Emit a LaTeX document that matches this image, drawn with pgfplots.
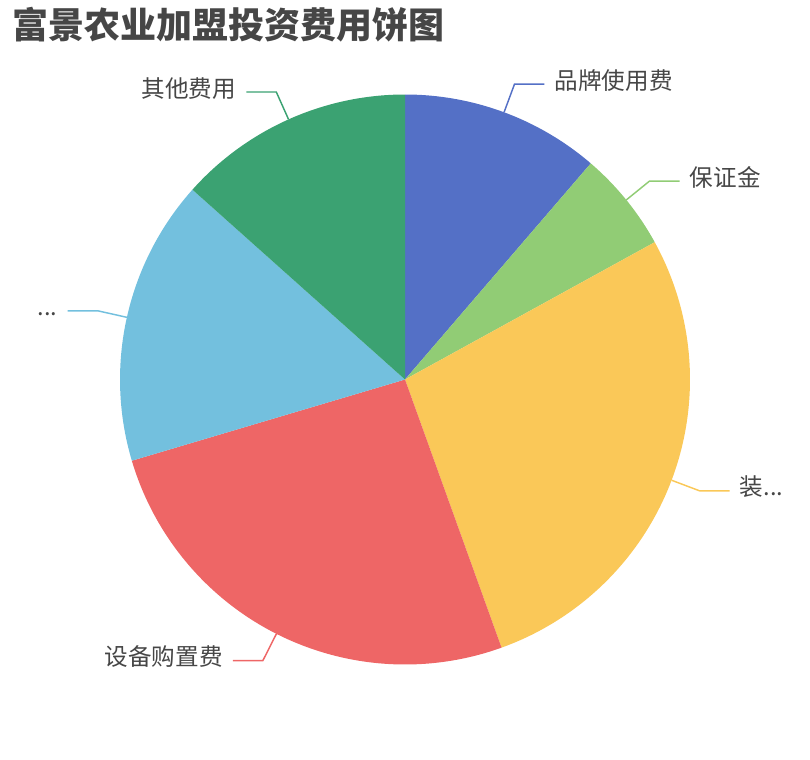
\documentclass[border=0pt]{standalone}
\usepackage{fontspec}
\setmainfont{Noto Sans CJK SC}
\usepackage{pgfplots}
\usepackage{pgfplotstable}
\pgfplotsset{compat=1.18}

\definecolor{c0}{HTML}{5470C6}
\definecolor{c1}{HTML}{91CC75}
\definecolor{c2}{HTML}{FAC858}
\definecolor{c3}{HTML}{EE6666}
\definecolor{c4}{HTML}{73C0DE}
\definecolor{c5}{HTML}{3BA272}
\definecolor{txt}{HTML}{464646}

% share of each item (percent), clockwise from 12 o'clock
\pgfplotstableread[col sep=comma]{
label,value
品牌使用费,11.3
保证金,5.7
装...,27.5
设备购置费,25.9
...,16.2
其他费用,13.4
}\piedata

\begin{document}
\begin{tikzpicture}
\def\R{213.75pt}% 285px radius, 1px = 0.75pt
\gdef\total{0}
\foreach \i in {0,...,5}{
  \pgfplotstablegetelem{\i}{value}\of\piedata
  \pgfmathsetmacro\t{\total+\pgfplotsretval}
  \xdef\total{\t}
}
\gdef\acc{0}
\foreach \i in {0,...,5}{
  \pgfplotstablegetelem{\i}{value}\of\piedata
  \pgfmathsetmacro\a{360*(\acc/\total)}
  \pgfmathsetmacro\n{\acc+\pgfplotsretval}
  \pgfmathsetmacro\b{360*(\n/\total)}
  \pgfmathsetmacro\m{(\a+\b)/2}
  \pgfmathtruncatemacro\s{sin(\m)>=0 ? 1 : -1}
  \pgfmathsetmacro\xa{405+285*sin(\m)}
  \pgfmathsetmacro\ya{379.5-285*cos(\m)}
  \pgfmathsetmacro\xb{405+315*sin(\m)}
  \pgfmathsetmacro\yb{379.5-315*cos(\m)}
  \pgfmathsetmacro\xc{\xb+30*\s}
  \pgfmathsetmacro\xt{\xc+10*\s}
  \expandafter\xdef\csname pieA\i\endcsname{\a}
  \expandafter\xdef\csname pieB\i\endcsname{\b}
  \expandafter\xdef\csname pieXa\i\endcsname{\xa}
  \expandafter\xdef\csname pieYa\i\endcsname{\ya}
  \expandafter\xdef\csname pieXb\i\endcsname{\xb}
  \expandafter\xdef\csname pieYb\i\endcsname{\yb}
  \expandafter\xdef\csname pieXc\i\endcsname{\xc}
  \expandafter\xdef\csname pieXt\i\endcsname{\xt}
  \ifnum\s>0
    \expandafter\xdef\csname pieAn\i\endcsname{west}
  \else
    \expandafter\xdef\csname pieAn\i\endcsname{east}
  \fi
  \xdef\acc{\n}
  \pgfplotstablegetelem{\i}{label}\of\piedata
  \expandafter\xdef\csname pieL\i\endcsname{\pgfplotsretval}
}

\begin{axis}[
  hide axis,
  scale only axis,
  width=607.5pt,
  height=570pt,
  xmin=0, xmax=810,
  ymin=0, ymax=760,
  y dir=reverse,
  clip=false,
]
\path (axis cs:0,0) rectangle (axis cs:810,760);

\pgfplotsinvokeforeach{0,...,5}{
  \fill[c#1] (axis cs:405,379.5) -- ++({90-\csname pieA#1\endcsname}:\R)
    arc[start angle={90-\csname pieA#1\endcsname},
        end angle={90-\csname pieB#1\endcsname}, radius=\R] -- cycle;
}
\pgfplotsinvokeforeach{0,...,5}{
  \draw[c#1, line width=1.1pt]
    (axis cs:\csname pieXa#1\endcsname,\csname pieYa#1\endcsname)
    -- (axis cs:\csname pieXb#1\endcsname,\csname pieYb#1\endcsname)
    -- (axis cs:\csname pieXc#1\endcsname,\csname pieYb#1\endcsname);
  \node[anchor=\csname pieAn#1\endcsname, inner sep=0pt, text=txt,
        text height=0.88em, text depth=0.12em,
        font=\fontsize{17.7}{21}\selectfont]
    at (axis cs:\csname pieXt#1\endcsname,\csname pieYb#1\endcsname)
    {\csname pieL#1\endcsname};
}

\node[anchor=west, inner sep=0pt, text=txt,
      font=\bfseries\fontsize{27}{32}\selectfont]
  at (axis cs:12,25) {富景农业加盟投资费用饼图};
\end{axis}
\end{tikzpicture}
\end{document}
